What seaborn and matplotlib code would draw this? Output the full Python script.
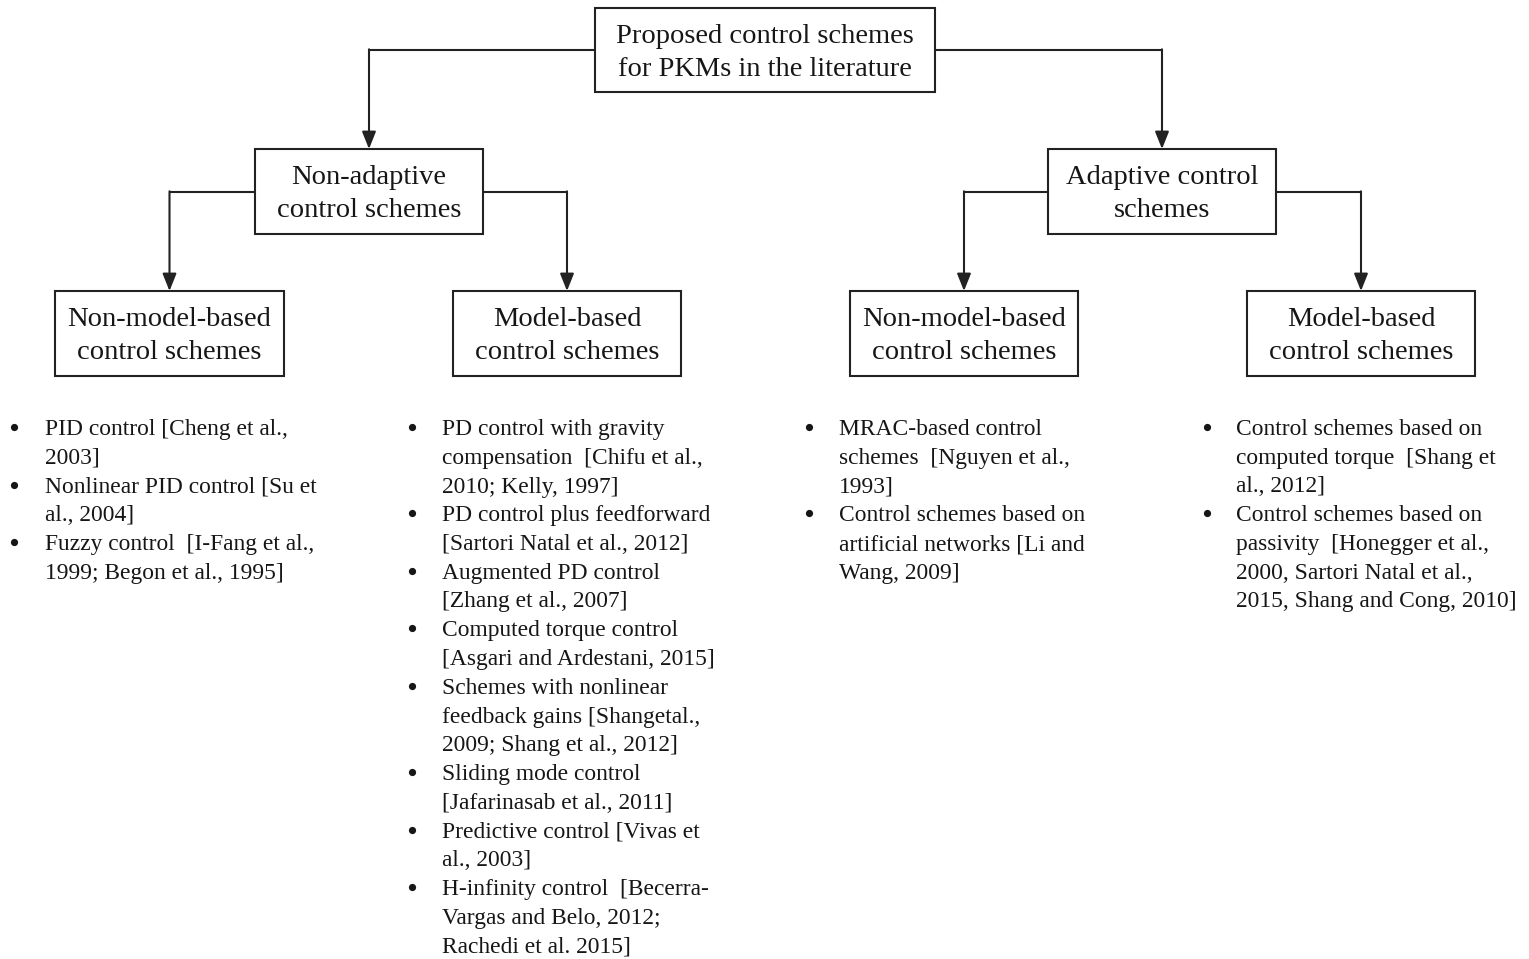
import matplotlib
matplotlib.use("Agg")
import matplotlib.pyplot as plt
import seaborn as sns
from matplotlib.patches import Rectangle

sns.set_theme(style="white")
plt.rcParams['font.family'] = ['Liberation Serif', 'DejaVu Serif']

# ---- text content ----
root_label = ["Proposed control schemes", "for PKMs in the literature"]
level1_labels = [["Non-adaptive", "control schemes"],
                 ["Adaptive control", "schemes"]]
level2_labels = [["Non-model-based", "control schemes"],
                 ["Model-based", "control schemes"],
                 ["Non-model-based", "control schemes"],
                 ["Model-based", "control schemes"]]

list_nonadaptive_nonmodel = [
    ["PID control [Cheng et al.,", "2003]"],
    ["Nonlinear PID control [Su et", "al., 2004]"],
    ["Fuzzy control  [I-Fang et al.,", "1999; Begon et al., 1995]"],
]
list_nonadaptive_model = [
    ["PD control with gravity", "compensation  [Chifu et al.,", "2010; Kelly, 1997]"],
    ["PD control plus feedforward", "[Sartori Natal et al., 2012]"],
    ["Augmented PD control", "[Zhang et al., 2007]"],
    ["Computed torque control", "[Asgari and Ardestani, 2015]"],
    ["Schemes with nonlinear", "feedback gains [Shangetal.,", "2009; Shang et al., 2012]"],
    ["Sliding mode control", "[Jafarinasab et al., 2011]"],
    ["Predictive control [Vivas et", "al., 2003]"],
    ["H-infinity control  [Becerra-", "Vargas and Belo, 2012;", "Rachedi et al. 2015]"],
]
list_adaptive_nonmodel = [
    ["MRAC-based control", "schemes  [Nguyen et al.,", "1993]"],
    ["Control schemes based on", "artificial networks [Li and", "Wang, 2009]"],
]
list_adaptive_model = [
    ["Control schemes based on", "computed torque  [Shang et", "al., 2012]"],
    ["Control schemes based on", "passivity  [Honegger et al.,", "2000, Sartori Natal et al.,",
     "2015, Shang and Cong, 2010]"],
]
lists = [list_nonadaptive_nonmodel, list_nonadaptive_model,
         list_adaptive_nonmodel, list_adaptive_model]

# ---- layout (pixel coordinates) ----
W, H = 1529, 959
fig = plt.figure(figsize=(W / 100, H / 100), dpi=100)
ax = fig.add_axes([0, 0, 1, 1])
ax.set_xlim(0, W)
ax.set_ylim(H, 0)
ax.axis("off")

LW = 1.5
BOX_FS = 20.5
LIST_FS = 16.9
INK = "#161616"

root_box = (595, 8, 935, 92)
level1_boxes = [(255, 149, 483, 234), (1048, 149, 1276, 234)]
level2_boxes = [(55, 291, 284, 376), (453, 291, 681, 376),
                (850, 291, 1078, 376), (1247, 291, 1475, 376)]


def draw_box(b, lines):
    x0, y0, x1, y1 = b
    ax.add_patch(Rectangle((x0, y0), x1 - x0, y1 - y0, fill=False,
                           edgecolor="#222222", linewidth=LW))
    cx = (x0 + x1) / 2
    for i, ln in enumerate(lines):
        ax.text(cx, y0 + 35 + i * 33, ln, ha="center", va="baseline",
                fontsize=BOX_FS, color=INK)


def connector(xs, ys, xe, ye):
    # horizontal from (xs, ys) to (xe, ys), then arrow down to (xe, ye)
    ax.plot([xs, xe], [ys, ys], color="#222222", lw=LW, solid_capstyle="butt")
    ax.annotate("", xy=(xe, ye), xytext=(xe, ys - 0.7),
                arrowprops=dict(arrowstyle="-|>,head_length=0.75,head_width=0.3",
                                color="#222222", lw=LW, shrinkA=0, shrinkB=0,
                                mutation_scale=14))


draw_box(root_box, root_label)
for b, lab in zip(level1_boxes, level1_labels):
    draw_box(b, lab)
for b, lab in zip(level2_boxes, level2_labels):
    draw_box(b, lab)

root_y = (root_box[1] + root_box[3]) / 2
for i, b in enumerate(level1_boxes):
    cx = (b[0] + b[2]) / 2
    xs = root_box[0] if i == 0 else root_box[2]
    connector(xs, root_y, cx, b[1])

for j, pb in enumerate(level1_boxes):
    py = (pb[1] + pb[3]) / 2 + 0.5
    for k in range(2):
        cb = level2_boxes[2 * j + k]
        cx = (cb[0] + cb[2]) / 2
        xs = pb[0] if k == 0 else pb[2]
        connector(xs, py, cx, cb[1])

# ---- bullet lists ----
bullet_x = [14, 412, 809, 1207]
text_x = [45, 442, 839, 1236]
y_first = 435
line_h = 28.75
for col, items in enumerate(lists):
    row = 0
    for item in items:
        ax.plot([bullet_x[col]], [y_first + row * line_h - 8], marker="o",
                markersize=5.2, color=INK, markeredgewidth=0)
        for ln in item:
            ax.text(text_x[col], y_first + row * line_h, ln, ha="left",
                    va="baseline", fontsize=LIST_FS, color=INK)
            row += 1

fig.savefig("out.png", dpi=100, facecolor="white")
